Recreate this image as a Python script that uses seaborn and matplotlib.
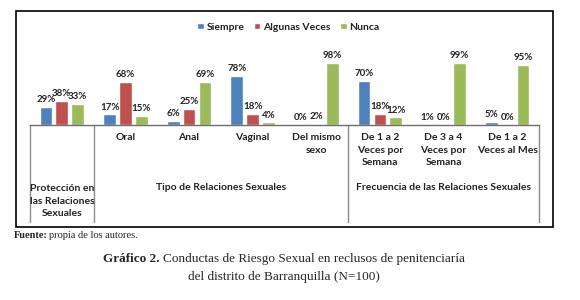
import pandas as pd
import matplotlib
matplotlib.use("Agg")
import matplotlib.pyplot as plt
import matplotlib.transforms as mtransforms
from matplotlib.patches import Rectangle
import seaborn as sns

# data (percent)
categories = ["Protección", "Oral", "Anal", "Vaginal", "Del mismo sexo",
              "De 1 a 2 por Semana", "De 3 a 4 por Semana", "De 1 a 2 al Mes"]
tick_labels = ["", "Oral", "Anal", "Vaginal", "Del mismo\nsexo",
               "De 1 a 2\nVeces por\nSemana", "De 3 a 4\nVeces por\nSemana",
               "De 1 a 2\nVeces al Mes"]
series = ["Siempre", "Algunas Veces", "Nunca"]
siempre = [29, 17, 6, 78, 0, 70, 1, 5]
algunas_veces = [38, 68, 25, 18, 2, 18, 0, 0]
nunca = [33, 15, 69, 4, 98, 12, 99, 95]
groups = ["Protección en\nlas Relaciones\nSexuales", "Tipo de Relaciones Sexuales",
          "Frecuencia de las Relaciones Sexuales"]
group_spans = [(0, 0), (1, 4), (5, 7)]
colors = ["#4F81BD", "#C0504D", "#9BBB59"]

CHART_FONT = ["Lato", "DejaVu Sans"]
CAPTION_FONT = ["Liberation Serif", "DejaVu Serif"]
W, H = 580, 300


def fx(px):
    return px / W


def fy(py):
    return 1 - py / H


df = pd.DataFrame({
    "categoria": categories * 3,
    "serie": [s for s in series for _ in categories],
    "valor": siempre + algunas_veces + nunca,
})

sns.set_style("white")
plt.rcParams["font.family"] = CHART_FONT

fig = plt.figure(figsize=(W / 100, H / 100), dpi=100)
ax = fig.add_axes([fx(30), fy(125), fx(509), 63 / H])

sns.barplot(data=df, x="categoria", y="valor", hue="serie", order=categories,
            hue_order=series, palette=colors, saturation=1, width=0.75, gap=0.2,
            errorbar=None, ax=ax)

for cont in ax.containers:
    ax.bar_label(cont, fmt="{:.0f}%", padding=2, fontsize=7, fontweight="bold",
                 color="#222222")

ax.set_ylim(0, 100)
ax.set_xlim(-0.5, len(categories) - 0.5)
ax.set_yticks([])
ax.set_xlabel("")
ax.set_ylabel("")
ax.set_xticks(range(len(categories)))
ax.set_xticklabels(tick_labels, fontsize=7.5, fontweight="bold", color="#222222",
                   linespacing=1.5)
ax.tick_params(axis="x", length=0, pad=6)
for side in ["left", "right", "top"]:
    ax.spines[side].set_visible(False)
ax.spines["bottom"].set_color("#6e6e6e")
ax.spines["bottom"].set_linewidth(1.0)

# group separators below the axis
trans = mtransforms.blended_transform_factory(ax.transData, fig.transFigure)
for xpos in [-0.5, 0.5, 4.5, 7.5]:
    ax.plot([xpos, xpos], [fy(125), fy(222)], transform=trans, color="#8c8c8c",
            lw=1.0, clip_on=False)

for label, (a, b) in zip(groups, group_spans):
    center = (a + b) / 2
    ypos = fy(201) if "\n" in label else fy(187)
    ax.text(center, ypos, label, transform=trans, ha="center", va="center",
            fontsize=7.5, fontweight="bold", color="#222222", linespacing=1.5)

leg = ax.legend(loc="center left", bbox_to_anchor=(fx(188), fy(27)),
                bbox_transform=fig.transFigure, ncol=3, frameon=False,
                handlelength=0.6, handleheight=0.6, handletextpad=0.3,
                columnspacing=0.9, prop={"family": CHART_FONT, "size": 7.5,
                                         "weight": "bold"})
for t in leg.get_texts():
    t.set_color("#222222")

# outer chart border
fig.patches.append(Rectangle((fx(16), fy(227)), fx(537), 216 / H,
                             transform=fig.transFigure, fill=False,
                             edgecolor="black", lw=1.2))

# captions below the chart
renderer = fig.canvas.get_renderer()


def mixed_line(x, y, bold_part, rest, size, ha="left", gap=1.5):
    t1 = fig.text(0, y, bold_part, fontsize=size, fontweight="bold",
                  family=CAPTION_FONT, va="center")
    t2 = fig.text(0, y, rest, fontsize=size, family=CAPTION_FONT, va="center")
    w1 = (t1.get_window_extent(renderer).width + gap) / W
    w2 = t2.get_window_extent(renderer).width / W
    start = x - (w1 + w2) / 2 if ha == "center" else x
    t1.set_x(start)
    t2.set_x(start + w1)


mixed_line(fx(14), fy(236), "Fuente:", "propia de los autores.", 7.5)
mixed_line(fx(284), fy(259), "Gráfico 2.",
           "Conductas de Riesgo Sexual en reclusos de penitenciaría", 9.5,
           ha="center", gap=3)
fig.text(fx(284), fy(277), "del distrito de Barranquilla (N=100)", fontsize=9.5,
         family=CAPTION_FONT, ha="center", va="center")

fig.savefig("out.png", dpi=100)
